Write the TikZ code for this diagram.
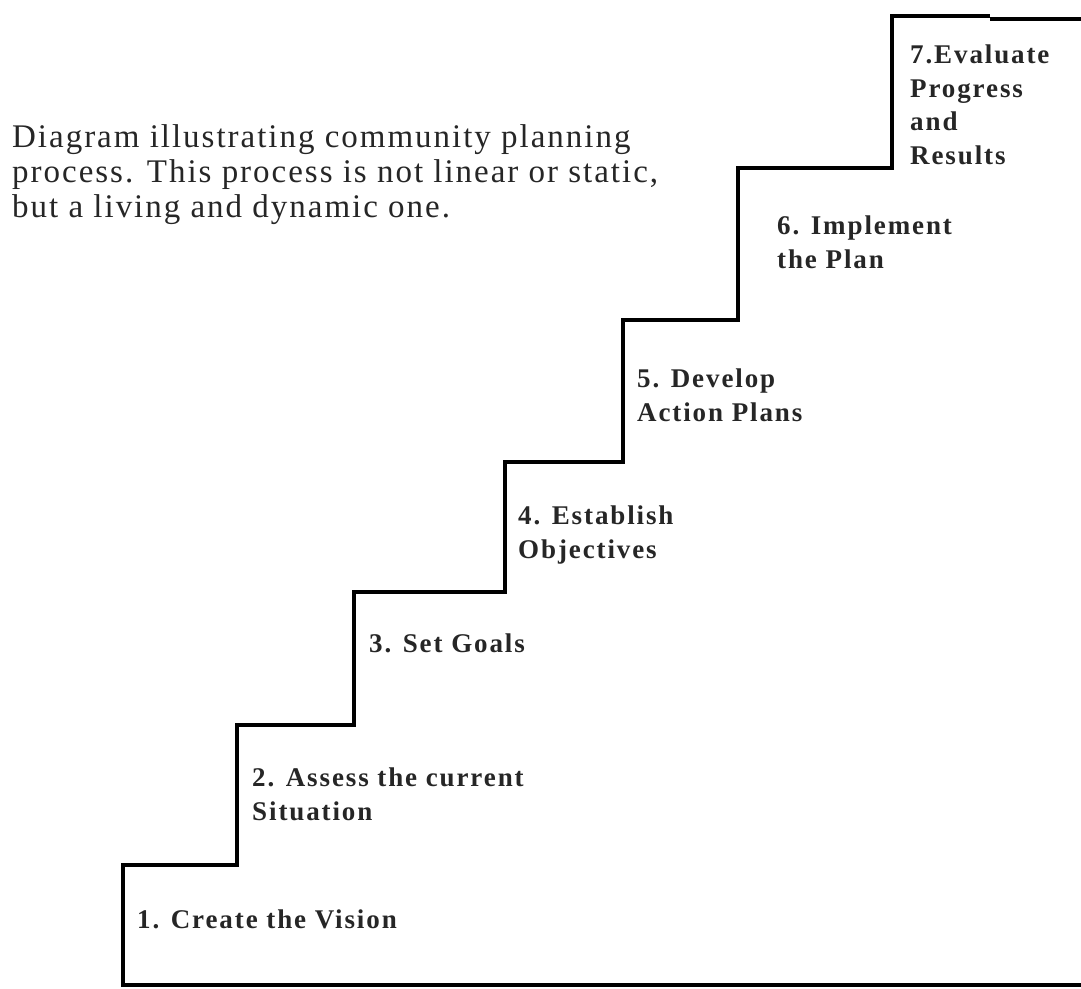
\documentclass[tikz,border=0pt]{standalone}
\usepackage{fontspec}
\setmainfont{Liberation Serif}
\newfontfamily\headfont[LetterSpace=6]{Liberation Serif}
\newfontfamily\labfont[LetterSpace=7]{Liberation Serif}
\tikzset{
  stair/.style={line width=4pt, line join=miter, black},
  headtext/.style={anchor=base west, inner sep=0pt, align=left, text=black!85,
    font=\headfont\fontsize{33}{35}\selectfont},
  steplabel/.style={anchor=base west, inner sep=0pt, align=left, text=black!85,
    font=\labfont\bfseries\fontsize{27}{33.5}\selectfont}
}
\begin{document}
\begin{tikzpicture}[x=1pt,y=-1pt]
\useasboundingbox (0,0) rectangle (1081,988);
\fill[white] (0,0) rectangle (1081,988);
% staircase
\draw[stair] (1081,985) -- (123,985) -- (123,865) -- (237,865) -- (237,725)
  -- (354,725) -- (354,592) -- (505,592) -- (505,462) -- (623,462)
  -- (623,320) -- (738,320) -- (738,168) -- (892,168) -- (892,16) -- (990,16);
\draw[stair] (990,19) -- (1081,19);
% header (anchor = baseline of last line)
\node[headtext] (head) at (12,217) {Diagram illustrating community planning\\process. This process is not linear or static,\\but a living and dynamic one.};
% step labels (anchor = baseline of last line)
\node[steplabel] (s1) at (137,928) {1. Create the Vision};
\node[steplabel] (s2) at (252,820) {2. Assess the current\\Situation};
\node[steplabel] (s3) at (369,652) {3. Set Goals};
\node[steplabel] (s4) at (518,558) {4. Establish\\Objectives};
\node[steplabel] (s5) at (637,421) {5. Develop\\Action Plans};
\node[steplabel] (s6) at (777,268) {6. Implement\\the Plan};
\node[steplabel] (s7) at (910,164) {7.Evaluate\\Progress\\and\\Results};
\end{tikzpicture}
\end{document}
